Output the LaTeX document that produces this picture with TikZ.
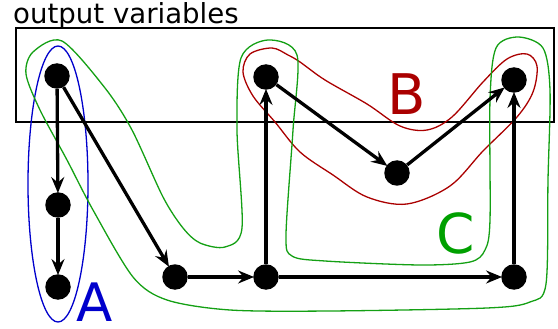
\documentclass[tikz,border=0pt]{standalone}
\usepackage{fontspec}
\setmainfont{DejaVu Sans}
\usetikzlibrary{arrows.meta}
\definecolor{ablue}{RGB}{0,0,204}
\definecolor{bred}{RGB}{170,0,0}
\definecolor{cgreen}{RGB}{0,160,0}
\definecolor{lgreen}{RGB}{20,160,20}
\begin{document}
\begin{tikzpicture}[x=1pt,y=-1pt,
  vert/.style={circle,fill=black,inner sep=0pt,minimum size=25.5pt},
  edge/.style={line width=3.3pt,-{Stealth[length=16pt,width=13pt,inset=5.5pt]},shorten >=-1pt},
  hull/.style={line width=1.3pt},
  lab/.style={inner sep=0pt,anchor=base}]
\useasboundingbox (0,0) rectangle (558,329);
\node[inner sep=0pt,anchor=base west,font=\fontsize{27.6}{30}\selectfont] (title) at (13,24) {output variables};
\draw[line width=1.6pt] (16,28) rectangle (554,122);

% hulls
\draw[hull,ablue] (58,184) ellipse [x radius=30, y radius=138];
\draw[hull,bred] plot[smooth cycle,tension=0.55] coordinates {
 (288,55) (300,62) (325,80) (367,104) (400,126) (427,130) (452,117) (483,82)
 (507,59) (527,54) (537,66) (533,92) (517,117) (483,151) (450,186) (407,204)
 (367,197) (333,175) (300,152) (275,122) (253,96) (243,72) (250,54) (272,48)};
\draw[hull,lgreen] plot[smooth cycle,tension=0.5] coordinates {
 (26,74) (40,110) (67,160) (93,210) (133,277) (167,300) (230,310) (330,311)
 (487,308) (530,302) (546,284) (548,180) (550,90) (543,48) (518,37) (496,48)
 (490,100) (490,220) (485,250) (470,262) (420,265) (325,261) (292,256) (286,235)
 (293,130) (297,55) (268,40) (241,58) (237,130) (242,228) (225,247) (200,243)
 (183,228) (163,197) (132,130) (105,88) (62,41) (33,52)};

% vertices
\node[vert] (n1) at (57,76) {};
\node[vert] (n2) at (58,205) {};
\node[vert] (n3) at (58,287) {};
\node[vert] (n4) at (175,277) {};
\node[vert] (n5) at (266,277) {};
\node[vert] (n6) at (266,77) {};
\node[vert] (n7) at (397,173) {};
\node[vert] (n8) at (514,80) {};
\node[vert] (n9) at (514,277) {};

% edges
\draw[edge] (n1) -- (n2);
\draw[edge] (n2) -- (n3);
\draw[edge] (n1) -- (n4);
\draw[edge] (n4) -- (n5);
\draw[edge] (n5) -- (n6);
\draw[edge] (n6) -- (n7);
\draw[edge] (n7) -- (n8);
\draw[edge] (n5) -- (n9);
\draw[edge] (n9) -- (n8);

% labels
\node[lab,ablue,font=\fontsize{53}{60}\selectfont] (la) at (95,321) {A};
\node[lab,bred,font=\fontsize{56}{60}\selectfont] (lb) at (407,115) {B};
\node[lab,cgreen,font=\fontsize{55}{60}\selectfont] (lc) at (456,254) {C};
\end{tikzpicture}
\end{document}
